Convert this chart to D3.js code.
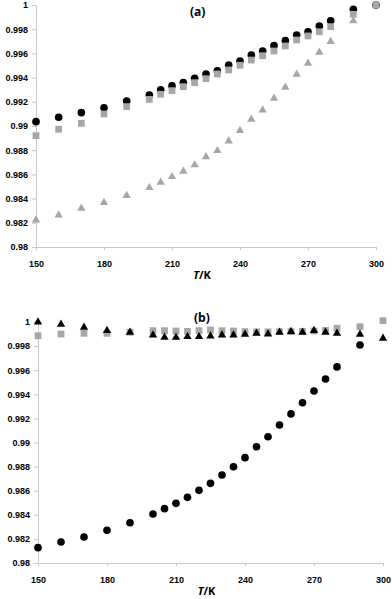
<!DOCTYPE html>
<html>
<head>
<meta charset="utf-8">
<script src="https://cdn.jsdelivr.net/npm/d3@7"></script>
<style>
  body { margin: 0; background: #fff; }
  svg { display: block; font-family: "Open Sans", Lato, sans-serif; font-weight: 700; }
  .axis path, .axis line { stroke: #c8c8c8; }
  .axis text { font-size: 9px; fill: #000; }
</style>
</head>
<body>
<svg id="chart" width="392" height="599"></svg>
<script>
// Températures (K)
const temps = [150, 160, 170, 180, 190, 200, 205, 210, 215, 220, 225, 230, 235, 240,
  245, 250, 255, 260, 265, 270, 275, 280, 290, 300];

// Panneau (a)
const aCircles = [0.99036, 0.99072, 0.99110, 0.99151, 0.99207, 0.99256, 0.99298, 0.99331,
  0.99358, 0.99394, 0.99430, 0.99457, 0.99504, 0.99537, 0.99587, 0.99620, 0.99664,
  0.99705, 0.99752, 0.99779, 0.99826, 0.99870, 0.99964, 1.0];
const aSquares = [0.98920, 0.98973, 0.99022, 0.99099, 0.99160, 0.99220, 0.99262, 0.99292,
  0.99325, 0.99358, 0.99391, 0.99430, 0.99463, 0.99502, 0.99545, 0.99581, 0.99620,
  0.99661, 0.99711, 0.99744, 0.99779, 0.99821, 0.99923, 1.0];
const aTriangles = [0.98223, 0.98264, 0.98320, 0.98366, 0.98425, 0.98490, 0.98535, 0.98581,
  0.98626, 0.98678, 0.98746, 0.98796, 0.98876, 0.98961, 0.99055, 0.99132, 0.99229,
  0.99320, 0.99427, 0.99518, 0.99609, 0.99697, 0.99870, 1.0];

// Panneau (b)
const bCircles = [0.98127, 0.98174, 0.98216, 0.98271, 0.98334, 0.98407, 0.98451, 0.98495,
  0.98545, 0.98603, 0.98661, 0.98730, 0.98799, 0.98874, 0.98965, 0.99048, 0.99145,
  0.99237, 0.99330, 0.99427, 0.99527, 0.99627, 0.99809, null];
const bSquares = [0.99886, 0.99900, 0.99906, 0.99906, 0.99915, 0.99928, 0.99928, 0.99925,
  0.99922, 0.99928, 0.99934, 0.99928, 0.99925, 0.99920, 0.99918, 0.99918, 0.99920,
  0.99920, 0.99922, 0.99925, 0.99930, 0.99948, 0.99961, 1.00011];
const bTriangles = [1.0, 0.99981, 0.99956, 0.99928, 0.99915, 0.99892, 0.99873, 0.99873,
  0.99878, 0.99878, 0.99884, 0.99892, 0.99892, 0.99898, 0.99906, 0.99900, 0.99915,
  0.99920, 0.99915, 0.99928, 0.99915, 0.99906, 0.99898, 0.99865];

const xTicks = [150, 180, 210, 240, 270, 300];
const yTicks = [0.98, 0.982, 0.984, 0.986, 0.988, 0.99, 0.992, 0.994, 0.996, 0.998, 1];

const svg = d3.select("#chart");
const fmt = d => String(+d.toFixed(3));

function drawPanel(p) {
  const x = d3.scaleLinear().domain([150, 300]).range([p.left, p.right]);
  const y = d3.scaleLinear().domain([0.98, 1]).range([p.bottom, p.top]);
  const g = svg.append("g");

  g.append("g").attr("class", "axis")
    .attr("transform", `translate(${p.left},0)`)
    .call(d3.axisLeft(y).tickValues(yTicks).tickFormat(fmt).tickSize(4).tickPadding(4));

  g.append("g").attr("class", "axis")
    .attr("transform", `translate(0,${p.bottom})`)
    .call(d3.axisBottom(x).tickValues(xTicks).tickSize(3).tickPadding(11));

  // Séries : cercles, carrés, triangles
  p.series.forEach(s => {
    const sym = d3.symbol().type(s.type).size(s.size);
    g.append("g").selectAll("path")
      .data(temps.map((t, i) => [t, s.values[i]]).filter(d => d[1] != null))
      .enter().append("path")
      .attr("transform", d => `translate(${x(d[0])},${y(d[1])})`)
      .attr("d", sym)
      .attr("fill", s.color);
  });

  // Titre du panneau
  g.append("text").attr("x", p.labelX).attr("y", p.labelY)
    .attr("font-size", 12).text(p.label);

  // Titre de l'axe
  const t = g.append("text").attr("x", (p.left + p.right) / 2 - 4).attr("y", p.bottom + 32)
    .attr("text-anchor", "middle").attr("font-size", 11);
  t.append("tspan").attr("font-style", "italic").text("T");
  t.append("tspan").text("/K");
}

drawPanel({
  left: 36, right: 376, top: 5, bottom: 247, label: "(a)", labelX: 190, labelY: 16,
  series: [
    { values: aCircles, type: d3.symbolCircle, size: 46, color: "#000" },
    { values: aSquares, type: d3.symbolSquare, size: 46, color: "#a6a6a6" },
    { values: aTriangles, type: d3.symbolTriangle, size: 30, color: "#a6a6a6" }
  ]
});

drawPanel({
  left: 38, right: 383, top: 322, bottom: 563, label: "(b)", labelX: 194, labelY: 322,
  series: [
    { values: bCircles, type: d3.symbolCircle, size: 46, color: "#000" },
    { values: bSquares, type: d3.symbolSquare, size: 46, color: "#a6a6a6" },
    { values: bTriangles, type: d3.symbolTriangle, size: 30, color: "#000" }
  ]
});
</script>
</body>
</html>
